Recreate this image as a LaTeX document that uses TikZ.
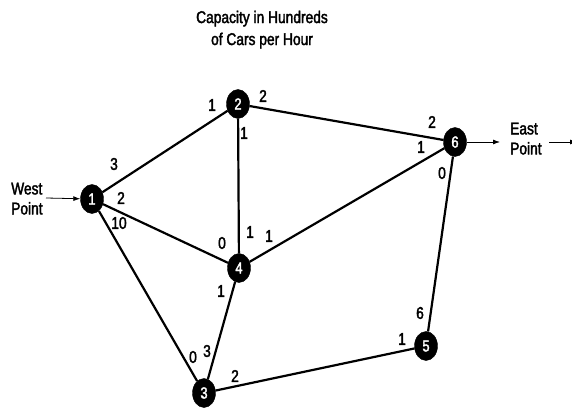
\documentclass[tikz,border=0pt]{standalone}
\usepackage{fontspec}
\setmainfont{Liberation Sans}[FakeStretch=0.81,FakeBold=2]
\usetikzlibrary{arrows.meta,shapes.geometric}
\begin{document}
\begin{tikzpicture}[x=1pt,y=-1pt,
  vtx/.style={ellipse,fill=black,draw=black,inner sep=0pt,minimum width=23pt,minimum height=29pt,text=white,font=\fontsize{16}{16}\selectfont},
  lbl/.style={inner sep=0pt,font=\fontsize{17}{17}\selectfont},
  txt/.style={inner sep=0pt,align=left,anchor=north west,font=\fontsize{17}{20}\selectfont},
  ttl/.style={inner sep=0pt,align=center,anchor=north,font=\fontsize{17}{22}\selectfont},
  link/.style={line width=2.2pt},
  arr/.style={line width=0.8pt,-{Latex[length=7pt,width=5pt]}}]
\useasboundingbox (0,0) rectangle (572,409);
% title
\node[ttl] (title) at (262,10.5) {Capacity in Hundreds\\of Cars per Hour};
% vertices
\node[vtx] (n1) at (92,199) {1};
\node[vtx] (n2) at (238,104) {2};
\node[vtx] (n6) at (455,142) {6};
\node[vtx] (n4) at (239,268) {4};
\node[vtx] (n3) at (204,393) {3};
\node[vtx] (n5) at (426,346) {5};
% edges
\draw[link] (n1) -- (n2);
\draw[link] (n1) -- (n4);
\draw[link] (n1) -- (n3);
\draw[link] (n2) -- (n6);
\draw[link] (n2) -- (n4);
\draw[link] (n4) -- (n6);
\draw[link] (n4) -- (n3);
\draw[link] (n3) -- (n5);
\draw[link] (n6) -- (n5);
% source and sink
\node[txt] (west) at (11,182.5) {West\\Point};
\node[txt] (east) at (510,122.5) {East\\Point};
\coordinate (westarr) at (46,198);
\coordinate (eastarr) at (500,142);
\coordinate (outstart) at (549,142);
\coordinate (outend) at (577,142);
\draw[arr] (westarr) -- (n1);
\draw[arr] (n6) -- (eastarr);
\draw[arr] (outstart) -- (outend);
% capacity labels
\node[lbl] (l12a) at (114,164) {3};
\node[lbl] (l12b) at (212,105) {1};
\node[lbl] (l14a) at (121,198) {2};
\node[lbl] (l14b) at (222,243) {0};
\node[lbl] (l13a) at (119,223) {10};
\node[lbl] (l13b) at (193,357) {0};
\node[lbl] (l26a) at (263,96) {2};
\node[lbl] (l26b) at (432,122) {2};
\node[lbl] (l24a) at (244,133) {1};
\node[lbl] (l24b) at (250,232) {1};
\node[lbl] (l46a) at (269,236) {1};
\node[lbl] (l46b) at (421,147) {1};
\node[lbl] (l43a) at (221,291) {1};
\node[lbl] (l43b) at (207,351) {3};
\node[lbl] (l35a) at (235,376) {2};
\node[lbl] (l35b) at (402,339) {1};
\node[lbl] (l65a) at (442,173) {0};
\node[lbl] (l65b) at (420,313) {6};
\end{tikzpicture}
\end{document}
